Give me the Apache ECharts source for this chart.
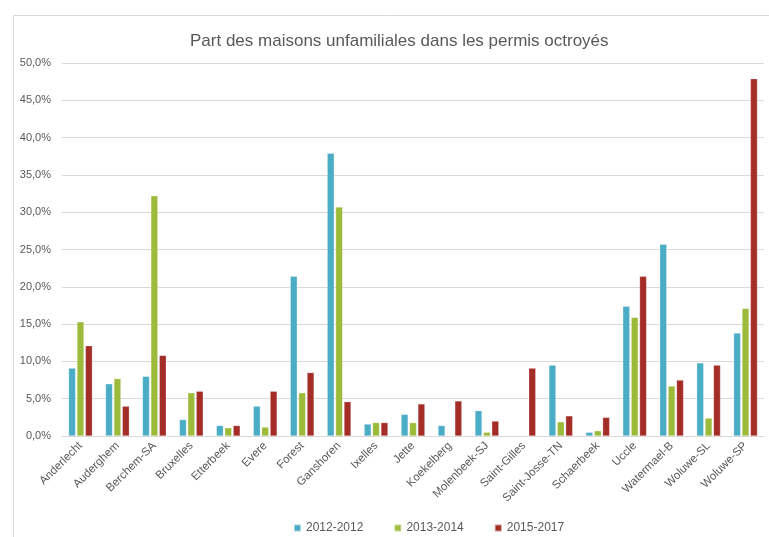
<!DOCTYPE html>
<html>
<head>
<meta charset="utf-8">
<script src="https://cdn.jsdelivr.net/npm/echarts@6/dist/echarts.min.js"></script>
<style>html,body{margin:0;padding:0;background:#fff}#c{width:769px;height:537px}</style>
</head>
<body>
<div id="c"></div>
<script>
var title = 'Part des maisons unfamiliales dans les permis octroyés';
var categories = ['Anderlecht','Auderghem','Berchem-SA','Bruxelles','Etterbeek','Evere','Forest','Ganshoren','Ixelles','Jette','Koekelberg','Molenbeek-SJ','Saint-Gilles','Saint-Josse-TN','Schaerbeek','Uccle','Watermael-B','Woluwe-SL','Woluwe-SP'];
var seriesNames = ['2012-2012','2013-2014','2015-2017'];
var s2012 = [9.1, 7.0, 8.0, 2.2, 1.4, 4.0, 21.4, 37.9, 1.6, 2.9, 1.4, 3.4, null, 9.5, 0.5, 17.4, 25.7, 9.8, 13.8];
var s2013 = [15.3, 7.7, 32.2, 5.8, 1.1, 1.2, 5.8, 30.7, 1.8, 1.8, null, 0.5, null, 1.9, 0.7, 15.9, 6.7, 2.4, 17.1];
var s2015 = [12.1, 4.0, 10.8, 6.0, 1.4, 6.0, 8.5, 4.6, 1.8, 4.3, 4.7, 2.0, 9.1, 2.7, 2.5, 21.4, 7.5, 9.5, 47.9];
var yMin = 0, yMax = 50, yStep = 5;
var colors = ['#4BACC6', '#9DBB3A', '#A52D27'];
var font = 'Liberation Sans, Arial, sans-serif';
var txt = '#595959';

var chart = echarts.init(document.getElementById('c'));
var data = [s2012, s2013, s2015];
chart.setOption({
  animation: false,
  backgroundColor: '#fff',
  color: colors,
  graphic: [{
    type: 'rect', left: 11, top: 13,
    shape: {width: 800, height: 600},
    style: {fill: 'none', stroke: '#d9d9d9', lineWidth: 1}
  }],
  title: {
    text: title, left: 185, top: 28,
    textStyle: {fontFamily: font, fontSize: 17, fontWeight: 'normal', color: txt}
  },
  legend: {
    data: seriesNames, top: 517, left: 288, itemWidth: 7, itemHeight: 7, itemGap: 30,
    icon: 'rect',
    textStyle: {fontFamily: font, fontSize: 12, color: txt}
  },
  grid: {left: 62, right: 5, top: 63, bottom: 101, containLabel: false},
  xAxis: {
    type: 'category', data: categories,
    axisLine: {lineStyle: {color: '#d9d9d9'}},
    axisTick: {show: false},
    axisLabel: {rotate: 45, interval: 0, fontFamily: font, fontSize: 11.5, color: txt, margin: 8}
  },
  yAxis: {
    type: 'value', min: yMin, max: yMax, interval: yStep,
    axisLine: {show: false}, axisTick: {show: false},
    splitLine: {lineStyle: {color: '#d9d9d9'}},
    axisLabel: {fontFamily: font, fontSize: 11, color: txt, margin: 11,
      formatter: function (v) { return v.toFixed(1).replace('.', ',') + '%'; }}
  },
  series: seriesNames.map(function (n, i) {
    return {
      name: n, type: 'bar', data: data[i], barWidth: 7, barGap: '20%',
      itemStyle: {color: colors[i], borderColor: 'rgba(255,255,255,0.5)', borderWidth: 0.5}
    };
  })
});
</script>
</body>
</html>
